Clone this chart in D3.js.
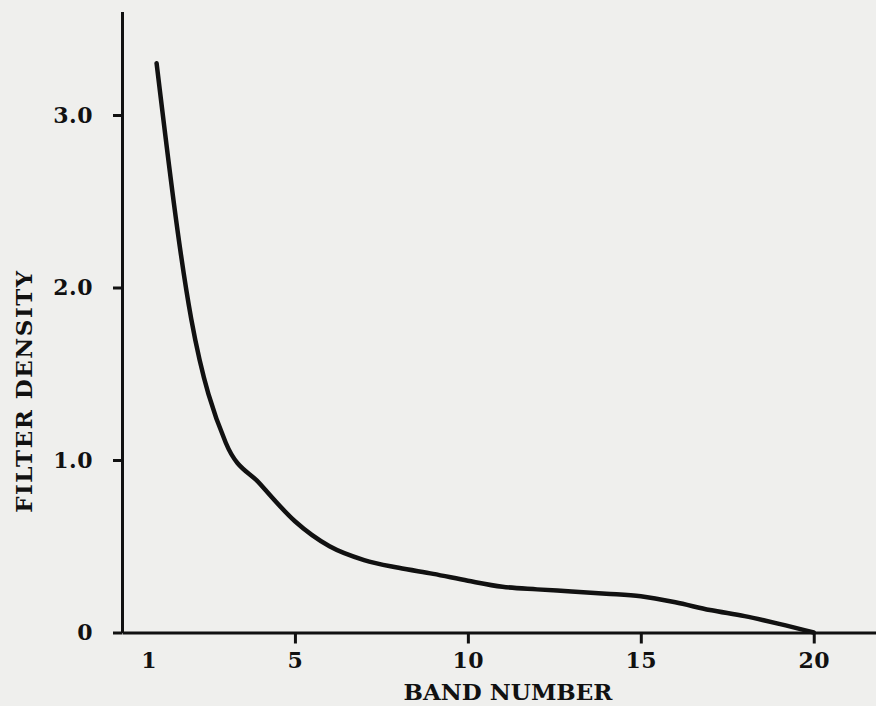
<!DOCTYPE html>
<html>
<head>
<meta charset="utf-8">
<script src="https://cdn.jsdelivr.net/npm/d3@7"></script>
<style>
  body { margin: 0; background: #efefed; }
  svg { display: block; }
</style>
</head>
<body>
<svg id="chart" width="876" height="706"></svg>
<script>
var bands = [1, 2, 3, 4, 5, 6, 7, 8, 9, 10, 11, 12, 13, 14, 15, 16, 17, 18, 19, 20]
var density = [3.30, 1.82, 1.10, 0.86, 0.645, 0.50, 0.42, 0.375, 0.34, 0.30,
               0.265, 0.25, 0.238, 0.225, 0.21, 0.175, 0.13, 0.095, 0.05, 0.0]
var xTicks = [1, 5, 10, 15, 20]
var yTicks = [0, 1, 2, 3]

var font = '"DejaVu Serif", "Liberation Serif", serif'
var ink = '#111'

var svg = d3.select('#chart')

var x = d3.scaleLinear().domain([0, 21.8]).range([122, 876])
var y = d3.scaleLinear().domain([0, 3.6]).range([632.5, 11.5])

var xAxis = svg.append('g')
    .attr('transform', `translate(0, ${y(0)})`)
    .call(d3.axisBottom(x)
      .tickValues(xTicks)
      .tickSize(11)
      .tickSizeOuter(0)
      .tickPadding(9)
      .tickFormat(d3.format('d')))

// no tick mark at band 1, only its label, set a little left
xAxis.selectAll('.tick')
    .filter(function (d) { return d === 1 })
    .select('line').remove()
xAxis.selectAll('.tick')
    .filter(function (d) { return d === 1 })
    .select('text').attr('dx', -8)

var yAxis = svg.append('g')
    .attr('transform', `translate(${x(0)}, 0)`)
    .call(d3.axisLeft(y)
      .tickValues(yTicks)
      .tickSize(9)
      .tickSizeOuter(0)
      .tickPadding(20)
      .tickFormat(function (d) { return d === 0 ? '0' : d3.format('.1f')(d) }))

svg.selectAll('.domain, .tick line')
    .attr('stroke', ink)
    .attr('stroke-width', 3)

svg.selectAll('.tick text')
    .attr('fill', ink)
    .attr('font-family', font)
    .attr('font-weight', 'bold')
    .attr('font-size', 22)
    .attr('letter-spacing', 0.5)

var line = d3.line()
    .x(function (d, i) { return x(bands[i]) })
    .y(function (d) { return y(d) })
    .curve(d3.curveMonotoneX)

svg.append('path')
    .datum(density)
    .attr('d', line)
    .attr('fill', 'none')
    .attr('stroke', ink)
    .attr('stroke-width', 4.5)
    .attr('stroke-linecap', 'round')

svg.append('text')
    .attr('transform', 'translate(32, 391) rotate(-90)')
    .attr('text-anchor', 'middle')
    .attr('font-family', font)
    .attr('font-weight', 'bold')
    .attr('font-size', 23)
    .attr('letter-spacing', 1.5)
    .attr('fill', ink)
    .text('FILTER DENSITY')

svg.append('text')
    .attr('x', 508)
    .attr('y', 700)
    .attr('text-anchor', 'middle')
    .attr('font-family', font)
    .attr('font-weight', 'bold')
    .attr('font-size', 23)
    .attr('fill', ink)
    .text('BAND NUMBER')
</script>
</body>
</html>
